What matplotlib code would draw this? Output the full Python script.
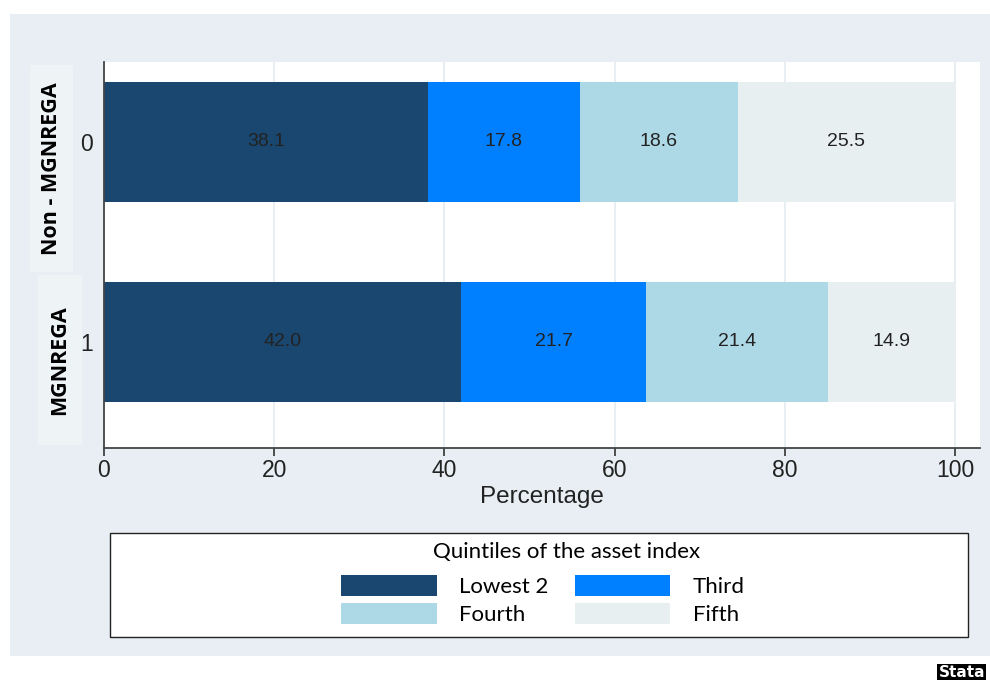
import matplotlib
matplotlib.use("Agg")
import matplotlib.pyplot as plt
from matplotlib.patches import Rectangle
import numpy as np

categories = ["0", "1"]
group_labels = ["Non - MGNREGA", "MGNREGA"]
series_names = ["Lowest 2", "Third", "Fourth", "Fifth"]
lowest2 = [38.1, 42.0]
third = [17.8, 21.7]
fourth = [18.6, 21.4]
fifth = [25.5, 14.9]
colors = ["#1A476F", "#0080FF", "#ADD8E6", "#E8EFF1"]
x_ticks = [0, 20, 40, 60, 80, 100]

W, H = 990, 680
fig = plt.figure(figsize=(W / 100, H / 100), dpi=100)
fig.patch.set_facecolor("white")

def fx(px):
    return px / W

def fy(py):
    return 1 - py / H

# outer panel
fig.patches.append(Rectangle((fx(10), fy(656)), fx(990) - fx(10), fy(14) - fy(656),
                             transform=fig.transFigure, facecolor="#E8EEF3",
                             edgecolor="none", zorder=0))

ax = fig.add_axes([fx(104), fy(448), fx(980) - fx(104), fy(62) - fy(448)])
ax.set_zorder(3)
ax.set_facecolor("white")

series = [lowest2, third, fourth, fifth]
ypos = np.arange(len(categories))
left = np.zeros(len(categories))
for vals, name, col in zip(series, series_names, colors):
    bars = ax.barh(ypos, vals, left=left, height=0.6, color=col, label=name,
                   edgecolor="none", zorder=2)
    ax.bar_label(bars, labels=[f"{v:.1f}" for v in vals], label_type="center",
                 fontsize=14, color="#222222", family="Liberation Sans")
    left = left + np.array(vals)

ax.set_xlim(0, (980 - 104) / 8.51)
ax.set_ylim(1.53, -0.4)
ax.set_xticks(x_ticks)
ax.set_xticklabels([str(t) for t in x_ticks], fontsize=16.5, family="Liberation Sans",
                   color="#222222")
ax.set_yticks(ypos)
ax.set_yticklabels(categories, fontsize=16.5, family="Liberation Sans", color="#222222")
ax.tick_params(axis="y", length=0, pad=8)
ax.tick_params(axis="x", length=6, width=1.2, color="#333333", pad=2)
ax.grid(axis="x", color="#E3ECF0", linewidth=1.2, zorder=0)
ax.set_axisbelow(True)
for s in ["top", "right"]:
    ax.spines[s].set_visible(False)
for s in ["left", "bottom"]:
    ax.spines[s].set_color("#444444")
    ax.spines[s].set_linewidth(1.3)
ax.set_xlabel("Percentage", fontsize=17.5, family="Liberation Sans", color="#222222",
              labelpad=3)

# group label boxes
boxes = [(30, 65, 73, 272), (38, 275, 82, 445)]
for (x0, y0, x1, y1), lab in zip(boxes, group_labels):
    fig.patches.append(Rectangle((fx(x0), fy(y1)), fx(x1) - fx(x0), fy(y0) - fy(y1),
                                 transform=fig.transFigure, facecolor="#EEF3F6",
                                 edgecolor="none", zorder=1))
    fig.text(fx((x0 + x1) / 2), fy((y0 + y1) / 2), lab, rotation=90, ha="center",
             va="center", fontsize=15.5, fontweight="bold", family="Open Sans",
             color="black", zorder=2)

# legend frame
fig.patches.append(Rectangle((fx(110), fy(637)), fx(968) - fx(110), fy(533) - fy(637),
                             transform=fig.transFigure, facecolor="white",
                             edgecolor="#222222", linewidth=1.0, zorder=1))
fig.text(fx(567), fy(552), "Quintiles of the asset index", ha="center", va="center",
         fontsize=16, family="Lato", color="black", zorder=2)
handles, labels = ax.get_legend_handles_labels()
order = [0, 2, 1, 3]
leg = fig.legend([handles[i] for i in order], [labels[i] for i in order], ncol=2,
                 loc="center left", bbox_to_anchor=(fx(321), fy(600)), frameon=False,
                 prop={"family": "Lato", "size": 16}, handlelength=4.3,
                 handleheight=1.1, handletextpad=1.0, columnspacing=1.2,
                 labelspacing=0.25)
leg.set_zorder(3)

fig.text(0.995, 0.0, "Stata", ha="right", va="bottom", fontsize=11,
         fontweight="bold", color="white", family="DejaVu Sans",
         bbox=dict(facecolor="black", edgecolor="none", pad=1))

fig.savefig("out.png", dpi=100)
